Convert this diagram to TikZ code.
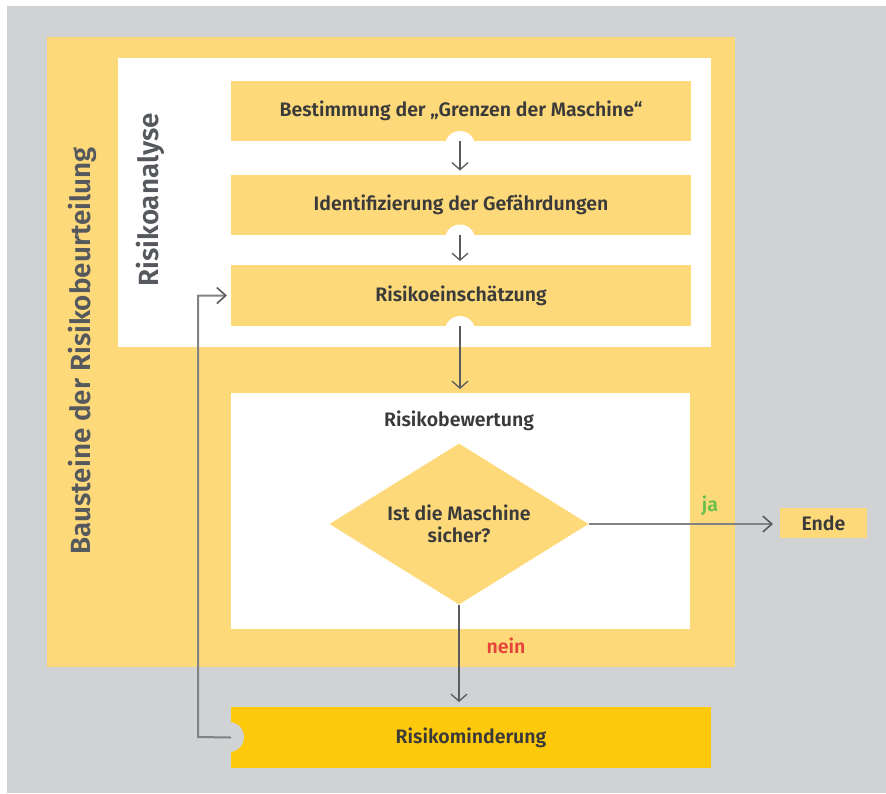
\documentclass[tikz,border=0pt]{standalone}
\usepackage{fontspec}
\setmainfont{Fira Sans}[BoldFont={Fira Sans SemiBold}]
\usetikzlibrary{shapes.geometric,arrows.meta}
\definecolor{bggrey}{HTML}{D1D2D4}
\definecolor{ly}{HTML}{FDD97A}
\definecolor{dy}{HTML}{FDC90A}
\definecolor{txt}{HTML}{3A3A3A}
\definecolor{vtxt}{HTML}{55585C}
\definecolor{arrc}{HTML}{5A5B5D}
\definecolor{linec}{HTML}{808285}
\definecolor{jagreen}{HTML}{6CC04A}
\definecolor{neinred}{HTML}{E8433A}
\tikzset{
  panel/.style={inner sep=0pt, outer sep=0pt},
  stepbox/.style={panel, fill=ly, minimum width=460pt, minimum height=60pt,
    font=\bfseries\fontsize{19.5}{22}\selectfont, text=txt},
  arr/.style={draw=arrc, line width=1.3pt, -{Straight Barb[length=7pt,width=16pt]}},
  thickarr/.style={draw=linec, line width=2pt, -{Straight Barb[length=9pt,width=16pt,line width=1.6pt,color=arrc]}},
  vlabel/.style={rotate=90, font=\bfseries\fontsize{27.8}{30}\selectfont, text=vtxt, inner sep=0pt},
  lbl/.style={panel, font=\bfseries\fontsize{19.5}{22}\selectfont},
}
\begin{document}
\begin{tikzpicture}[x=1pt,y=-1pt]
\useasboundingbox (0,0) rectangle (886,793);
\fill[white] (0,0) rectangle (886,793);
\node[panel, fill=bggrey, minimum width=879pt, minimum height=787pt] (bg) at (446.5,399.5) {};
% outer and inner panels
\node[panel, fill=ly, minimum width=688pt, minimum height=630pt] (outer) at (391,352) {};
\node[panel, fill=white, minimum width=593pt, minimum height=289pt] (ana) at (414.5,202.5) {};
% step boxes
\node[stepbox] (b1) at (461,111) {Bestimmung der „Grenzen der Maschine“};
\node[stepbox] (b2) at (461,204.5) {Identifizierung der Gefährdungen};
\node[stepbox, minimum height=61pt] (b3) at (461,295.5) {Risikoeinschätzung};
% notches
\fill[white] (460,146) circle (15pt);
\fill[white] (460,239.5) circle (15pt);
\fill[white] (460,331) circle (15pt);
% evaluation
\node[panel, fill=white, minimum width=459pt, minimum height=236pt] (bew) at (460.5,511) {};
\node[lbl, text=txt] (bewt) at (459,421) {Risikobewertung};
\node[diamond, shape aspect=1.6, fill=ly, inner sep=0pt, minimum width=259pt, minimum height=161pt,
  align=center, font=\bfseries\fontsize{19.5}{22}\selectfont, text=txt] (dia) at (459,524) {Ist die Maschine\\sicher?};
\node[stepbox, minimum width=87pt, minimum height=30pt] (ende) at (823.5,523) {Ende};
\node[stepbox, fill=dy, minimum width=480pt, minimum height=61pt] (mind) at (471,737.5) {Risikominderung};
\fill[bggrey] (229,737) circle (15pt);
% vertical labels
\node[vlabel] (lab1) at (82,351) {Bausteine der Risikobeurteilung};
\node[vlabel] (lab2) at (150,200) {Risikoanalyse};
% connectors
\draw[arr, shorten >=4pt] (b1.south -| 460,0) -- (b2.north -| 460,0);
\draw[arr, shorten >=4pt] (b2.south -| 460,0) -- (b3.north -| 460,0);
\draw[arr, shorten >=4pt] (b3.south -| 460,0) -- (bew.north -| 460,0);
\draw[arr, shorten >=5pt] (dia.south) -- (dia.south |- mind.north);
\draw[thickarr, shorten >=7pt] (dia.east) -- (dia.east -| ende.west);
\coordinate (fb) at (198,737);
\draw[thickarr, shorten >=4pt] (mind.west) -- (fb) |- (b3.west);
% labels
\node[lbl, text=jagreen] (ja) at (710,506) {ja};
\node[lbl, text=neinred] (nein) at (506,646) {nein};
\end{tikzpicture}
\end{document}
